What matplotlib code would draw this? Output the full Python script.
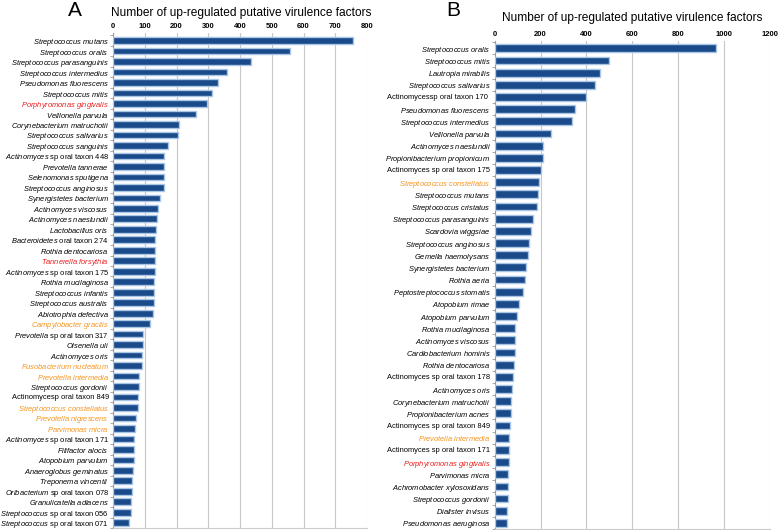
import matplotlib
matplotlib.use('Agg')
import matplotlib.pyplot as plt
import numpy as np

plt.rcParams['font.family'] = ['Liberation Sans', 'DejaVu Sans']
plt.rcParams['mathtext.fontset'] = 'custom'
plt.rcParams['mathtext.rm'] = 'Liberation Sans'
plt.rcParams['mathtext.it'] = 'Liberation Sans:italic'

# panel A data (top to bottom)
names_a = ['Streptococcus mutans', 'Streptococcus oralis', 'Streptococcus parasanguinis',
           'Streptococcus intermedius', 'Pseudomonas fluorescens', 'Streptococcus mitis',
           'Porphyromonas gingivalis', 'Veillonella parvula', 'Corynebacterium matruchotii',
           'Streptococcus salivarius', 'Streptococcus sanguinis', 'Actinomyces sp oral taxon 448',
           'Prevotella tannerae', 'Selenomonas sputigena', 'Streptococcus anginosus',
           'Synergistetes bacterium', 'Actinomyces viscosus', 'Actinomyces naeslundii',
           'Lactobacillus oris', 'Bacteroidetes oral taxon 274', 'Rothia dentocariosa',
           'Tannerella forsythia', 'Actinomyces sp oral taxon 175', 'Rothia mucilaginosa',
           'Streptococcus infantis', 'Streptococcus australis', 'Abiotrophia defectiva',
           'Campylobacter gracilis', 'Prevotella sp oral taxon 317', 'Olsenella uli',
           'Actinomyces oris', 'Fusobacterium nucleatum', 'Prevotella intermedia',
           'Streptococcus gordonii', 'Actinomycesp oral taxon 849', 'Streptococcus constellatus',
           'Prevotella nigrescens', 'Parvimonas micra', 'Actinomyces sp oral taxon 171',
           'Filifactor alocis', 'Atopobium parvulum', 'Anaeroglobus geminatus',
           'Treponema vincentii', 'Oribacterium sp oral taxon 078', 'Granulicatella adiacens',
           'Streptococcus sp oral taxon 056', 'Streptococcus sp oral taxon 071']
vals_a = [755, 558, 434, 358, 331, 312, 295, 261, 207, 206, 172, 162,
          161, 160, 160, 147, 141, 140, 135, 133, 132, 132, 131, 129,
          129, 128, 126, 116, 93, 93, 92, 91, 82, 82, 80, 78,
          74, 69, 65, 65, 65, 63, 61, 59, 57, 57, 51]
red_a = ['Porphyromonas gingivalis', 'Tannerella forsythia']
orange_a = ['Campylobacter gracilis', 'Fusobacterium nucleatum', 'Prevotella intermedia',
            'Streptococcus constellatus', 'Prevotella nigrescens', 'Parvimonas micra']

# panel B data
names_b = ['Streptococcus oralis', 'Streptococcus mitis', 'Lautropia mirabilis',
           'Streptococcus salivarius', 'Actinomycessp oral taxon 170 ', 'Pseudomonas fluorescens',
           'Streptococcus intermedius', 'Veillonella parvula', 'Actinomyces naeslundii',
           'Propionibacterium propionicum', 'Actinomyces sp oral taxon 175',
           'Streptococcus constellatus', 'Streptococcus mutans', 'Streptococcus cristatus',
           'Streptococcus parasanguinis', 'Scardovia wiggsiae', 'Streptococcus anginosus',
           'Gemella haemolysans', 'Synergistetes bacterium', 'Rothia aeria',
           'Peptostreptococcus stomatis', 'Atopobium rimae', 'Atopobium parvulum',
           'Rothia mucilaginosa', 'Actinomyces viscosus', 'Cardiobacterium hominis',
           'Rothia dentocariosa', 'Actinomyces sp oral taxon 178', 'Actinomyces oris',
           'Corynebacterium matruchotii', 'Propionibacterium acnes',
           'Actinomyces sp oral taxon 849', 'Prevotella intermedia',
           'Actinomyces sp oral taxon 171', 'Porphyromonas gingivalis', 'Parvimonas micra',
           'Achromobacter xylosoxidans', 'Streptococcus gordonii', 'Dialister invisus',
           'Pseudomonas aeruginosa']
vals_b = [964, 500, 458, 437, 400, 350, 339, 244, 213, 210, 204, 193, 190, 185,
          169, 159, 150, 147, 137, 133, 123, 105, 98, 91, 88, 88, 85, 80, 77, 73,
          70, 66, 63, 61, 61, 58, 57, 57, 55, 53]
red_b = ['Porphyromonas gingivalis']
orange_b = ['Streptococcus constellatus', 'Prevotella intermedia']

title = 'Number of up-regulated putative virulence factors'


def fmt(name, genus_italic):
    if 'taxon' in name:
        if genus_italic and not name.startswith('Actinomycesp'):
            first, rest = name.split(' ', 1)
            return r'$\mathit{' + first + '}$ ' + rest
        return name
    return r'$\mathit{' + name.split(' ')[0] + r'}\ \mathit{' + name.split(' ')[1] + '}$'


def panel(ax, names, vals, red, orange, genus_italic, xmax, step, top_gap):
    n = len(names)
    y = np.arange(n)
    ax.barh(y, vals, height=0.64, color='#1a4a8a', edgecolor='#a9c6e6', linewidth=1.0, zorder=3)
    ax.set_ylim(n - 0.5, -top_gap)
    ax.set_xlim(0, xmax)
    ax.set_xticks(np.arange(0, xmax + 1, step))
    ax.xaxis.tick_top()
    ax.tick_params(axis='x', length=0, labelsize=5.5, pad=2)
    for t in ax.get_xticklabels():
        t.set_fontweight('bold')
    ax.grid(axis='x', color='#c8c8c8', linewidth=0.8, zorder=0)
    ax.set_yticks(y)
    ax.set_yticklabels([fmt(s, genus_italic) for s in names], fontsize=5.4)
    ax.set_yticks(np.arange(n + 1) - 0.5, minor=True)
    ax.tick_params(axis='y', which='major', length=0, pad=3)
    ax.tick_params(axis='y', which='minor', length=2, color='#999999')
    for lab, s in zip(ax.get_yticklabels(), names):
        if s in red:
            lab.set_color('#ee1c1c')
        elif s in orange:
            lab.set_color('#f7941d')
    for sp in ['top', 'right']:
        ax.spines[sp].set_visible(False)
    ax.spines['left'].set_color('#999999')
    ax.spines['bottom'].set_color('#cccccc')


fig = plt.figure(figsize=(7.78, 5.30), dpi=100)
ax1 = fig.add_axes([113 / 778, 1 - 528 / 530, 254 / 778, 495 / 530])
ax2 = fig.add_axes([494.6 / 778, 1 - 529 / 530, 275.4 / 778, 488 / 530])
panel(ax1, names_a, vals_a, red_a, orange_a, True, 800, 100, 0.73)
panel(ax2, names_b, vals_b, red_b, orange_b, False, 1200, 200, 0.6)

fig.text(241 / 778, 1 - 13 / 530, title, ha='center', va='center', fontsize=8.6)
fig.text(632 / 778, 1 - 18 / 530, title, ha='center', va='center', fontsize=8.6)
fig.text(75 / 778, 1 - 11 / 530, 'A', ha='center', va='center', fontsize=15)
fig.text(453 / 778, 1 - 11 / 530, 'B', ha='center', va='center', fontsize=15)

fig.savefig('out.png', dpi=100)
